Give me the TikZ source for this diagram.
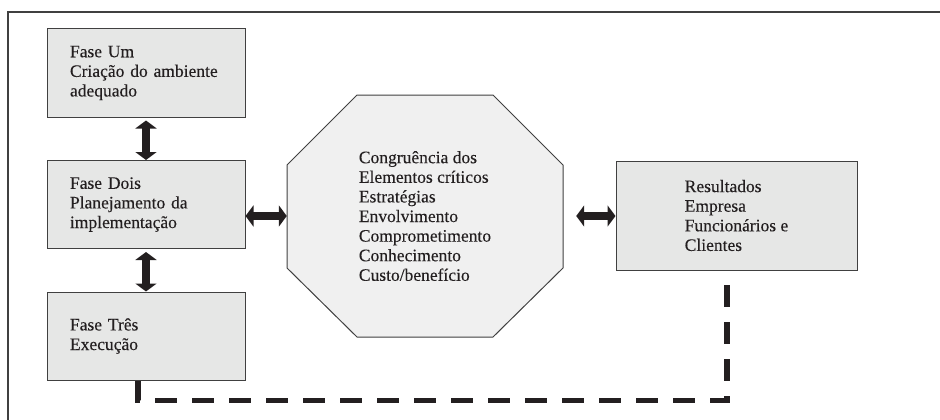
\documentclass[tikz,border=0pt]{standalone}
\usepackage{fontspec}
\setmainfont{Liberation Serif}[FakeBold=0.2]
\usetikzlibrary{arrows.meta}
\definecolor{caixa}{HTML}{E6E7E6}
\definecolor{octo}{HTML}{F0F0F0}
\definecolor{tinta}{HTML}{231F20}
\begin{document}
\begin{tikzpicture}[x=1pt, y=-1pt, line join=miter, font=\fontsize{17.5}{19.6}\selectfont,
	fase/.style={draw=black!75, line width=1pt, fill=caixa, text=tinta, minimum width=198pt, minimum height=88pt, text width=152pt, inner xsep=23pt, align=left},
	res/.style={draw=black!75, line width=1pt, fill=caixa, text=tinta, minimum width=241pt, minimum height=109pt, align=left},
	seta/.style={line width=8pt, draw=tinta, {Triangle[width=21pt,length=8pt]}-{Triangle[width=21pt,length=8pt]}},
	retorno/.style={line width=5.5pt, draw=tinta, dash pattern=on 22pt off 15pt}]
	\useasboundingbox (0,0) rectangle (940,420);
	\draw[line width=1.3pt, draw=black!75] (940,12) -- (8,12) -- (8,420);
	\node[fase] (fase1) at (146,73) {Fase Um\\Criação do ambiente\\adequado};
	\node[fase] (fase2) at (146,204.5) {Fase Dois\\Planejamento da\\implementação};
	\node[fase] (fase3) at (146,336) {Fase Três\\Execução};
	\draw[line width=1pt, draw=black!75, fill=octo] (357,95) -- (493,95) -- (563,165) -- (563,268) -- (493,337) -- (357,337) -- (287,268) -- (287,165) -- cycle;
	\node[minimum width=276pt, minimum height=242pt, text=tinta, align=left] (elem) at (425,216) {Congruência dos\\Elementos críticos\\Estratégias\\Envolvimento\\Comprometimento\\Conhecimento\\Custo/benefício};
	\node[res] (result) at (736.5,215.5) {Resultados\\Empresa\\Funcionários e\\Clientes};
	\draw[seta, shorten <=3pt] (fase1) -- (fase2);
	\draw[seta, shorten <=3pt] (fase2) -- (fase3);
	\draw[seta] (fase2.east |- elem.west) -- (elem.west);
	\draw[seta] ([xshift=13pt]elem.east) -- (result.west |- elem.east);
	\draw[retorno] ([xshift=-8pt]fase3.south) -- ++(0,20) -| ([xshift=-9.5pt]result.south);
\end{tikzpicture}
\end{document}
